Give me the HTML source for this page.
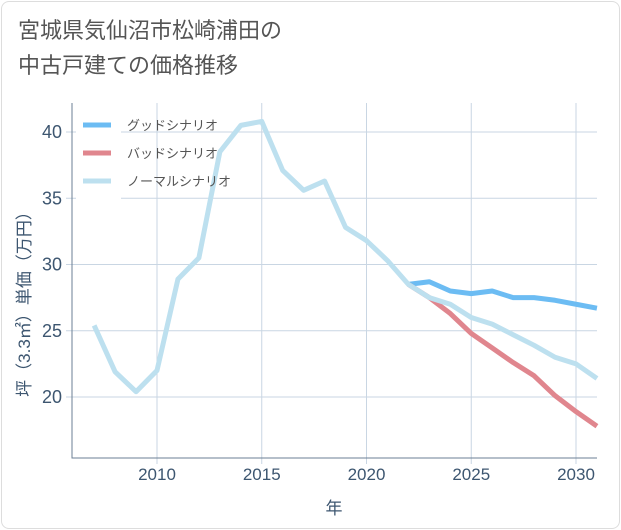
<!DOCTYPE html>
<html><head><meta charset="utf-8"><style>
body{margin:0;background:#fff;}
#c{position:relative;width:621px;height:530px;font-family:"Liberation Sans","Noto Sans CJK JP",sans-serif;}
.frame{position:absolute;left:1px;top:1px;width:617px;height:526px;border:1px solid #ddd;border-radius:8px;}
.title{position:absolute;left:18px;top:13px;font-size:22px;line-height:35px;color:#555;}
</style></head><body>
<div id="c">
<div class="frame"></div>
<div class="title">宮城県気仙沼市松崎浦田の<br>中古戸建ての価格推移</div>
<svg id="s" width="621" height="530" style="position:absolute;left:0;top:0"></svg>
</div>
<script>
const years=[2007,2008,2009,2010,2011,2012,2013,2014,2015,2016,2017,2018,2019,2020,2021,2022,2023,2024,2025,2026,2027,2028,2029,2030,2031];
const normal=[25.4,21.9,20.4,22.0,28.9,30.5,38.5,40.5,40.8,37.1,35.6,36.3,32.8,31.8,30.3,28.5,27.5,27.0,26.0,25.5,24.7,23.9,23.0,22.5,21.4];
const fyears=[2022,2023,2024,2025,2026,2027,2028,2029,2030,2031];
const good=[28.5,28.7,28.0,27.8,28.0,27.5,27.5,27.3,27.0,26.7];
const bad=[28.5,27.5,26.3,24.8,23.7,22.6,21.6,20.1,18.9,17.8];
const xticks=[2010,2015,2020,2025,2030];
const yticks=[20,25,30,35,40];
const L=72,R=597,T=103,B=458;
const X=v=>157+(v-2010)*(576-157)/20;
const Y=v=>397-(v-20)*(397-132)/20;
const s=document.getElementById('s');const NS='http://www.w3.org/2000/svg';
function el(t,a,p){const e=document.createElementNS(NS,t);for(const k in a)e.setAttribute(k,a[k]);(p||s).appendChild(e);return e;}
xticks.forEach(v=>{const g=el('line',{x1:X(v),x2:X(v),y1:T,y2:B+6,stroke:'#c9d6e3'});

const t=el('text',{x:X(v),y:480,'text-anchor':'middle','font-size':17,fill:'#3d5670'});t.textContent=v;
});
yticks.forEach(v=>{const g=el('line',{x1:L-6,x2:R,y1:Y(v),y2:Y(v),stroke:'#c9d6e3'});

const t=el('text',{x:62,y:Y(v)+6,'text-anchor':'end','font-size':18,fill:'#3d5670'});t.textContent=v;
});
const ax=el('path',{d:`M${L},${T}V${B}H${R}`,fill:'none',stroke:'#6b7f94'});

function line(xs,ys,c,n){const p=el('polyline',{points:xs.map((x,i)=>X(x)+','+Y(ys[i])).join(' '),fill:'none',stroke:c,'stroke-width':5,'stroke-linejoin':'round'});
}
line(fyears,good,'#6cbcf3','good-scenario-line');
line(fyears,bad,'#e0868e','bad-scenario-line');
line(years,normal,'#bde0ef','normal-scenario-line');
const lg=el('rect',{x:76,y:110,width:45,height:90,fill:'#fff'});

[['グッドシナリオ','#6cbcf3'],['バッドシナリオ','#e0868e'],['ノーマルシナリオ','#bde0ef']].forEach((d,i)=>{
const y=125+i*28;const l=el('line',{x1:83,x2:111,y1:y,y2:y,stroke:d[1],'stroke-width':5});

const t=el('text',{x:127,y:y+5,'font-size':13,fill:'#555'});t.textContent=d[0];
});
const xt=el('text',{x:334,y:514,'text-anchor':'middle','font-size':17,fill:'#3d5670'});xt.textContent='年';

const yt=el('text',{x:0,y:0,'text-anchor':'middle','font-size':17,fill:'#3d5670',transform:'translate(30,300) rotate(-90)'});yt.textContent='坪（3.3㎡）単価（万円）';

</script>
</body></html>
